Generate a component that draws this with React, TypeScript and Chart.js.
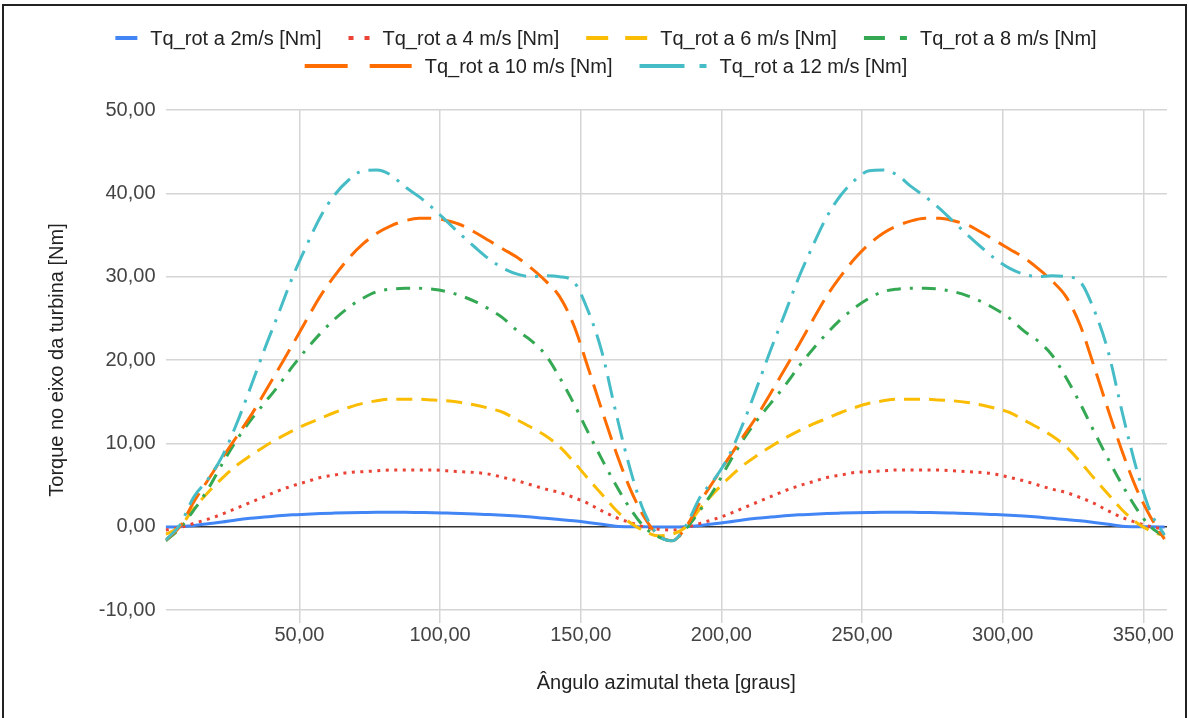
import React, { useEffect, useRef } from 'react';
import { Chart, registerables } from 'chart.js';

Chart.register(...registerables);

// Azimuthal angle theta [graus]
const THETA = [
  2.5, 7.5, 12.5, 17.5, 22.5, 27.5, 32.5, 37.5, 42.5, 47.5, 52.5, 57.5,
  62.5, 67.5, 72.5, 77.5, 82.5, 87.5, 92.5, 97.5, 102.5, 107.5, 112.5, 117.5,
  122.5, 127.5, 132.5, 137.5, 142.5, 147.5, 152.5, 157.5, 162.5, 167.5, 172.5, 177.5,
  182.5, 187.5, 192.5, 197.5, 202.5, 207.5, 212.5, 217.5, 222.5, 227.5, 232.5, 237.5,
  242.5, 247.5, 252.5, 257.5, 262.5, 267.5, 272.5, 277.5, 282.5, 287.5, 292.5, 297.5,
  302.5, 307.5, 312.5, 317.5, 322.5, 327.5, 332.5, 337.5, 342.5, 347.5, 352.5, 357.5,
];

const TQ_2 = [
  -0.05, 0.0, 0.15, 0.35, 0.55, 0.8, 1.0, 1.15, 1.3, 1.42, 1.5, 1.58,
  1.63, 1.67, 1.7, 1.72, 1.72, 1.72, 1.7, 1.68, 1.63, 1.58, 1.52, 1.45,
  1.38, 1.28, 1.15, 1.0, 0.85, 0.7, 0.5, 0.28, 0.05, 0.0, 0.0, -0.05,
  -0.05, 0.0, 0.15, 0.35, 0.55, 0.8, 1.0, 1.15, 1.3, 1.42, 1.5, 1.58,
  1.63, 1.67, 1.7, 1.72, 1.72, 1.72, 1.7, 1.68, 1.63, 1.58, 1.52, 1.45,
  1.38, 1.28, 1.15, 1.0, 0.85, 0.7, 0.5, 0.28, 0.05, 0.0, 0.0, -0.05,
];

const TQ_4 = [
  -0.4, -0.1, 0.4, 0.9, 1.5, 2.2, 2.9, 3.6, 4.3, 4.9, 5.4, 5.9,
  6.2, 6.5, 6.6, 6.7, 6.8, 6.8, 6.8, 6.8, 6.7, 6.6, 6.5, 6.3,
  5.9, 5.5, 5.0, 4.5, 4.1, 3.5, 2.8, 1.9, 1.1, 0.5, 0.0, -0.3,
  -0.4, -0.1, 0.4, 0.9, 1.5, 2.2, 2.9, 3.6, 4.3, 4.9, 5.4, 5.9,
  6.2, 6.5, 6.6, 6.7, 6.8, 6.8, 6.8, 6.8, 6.7, 6.6, 6.5, 6.3,
  5.9, 5.5, 5.0, 4.5, 4.1, 3.5, 2.8, 1.9, 1.1, 0.5, 0.0, -0.3,
];

const TQ_6 = [
  -0.9, 0.0, 2.2, 4.1, 5.8, 7.3, 8.5, 9.6, 10.6, 11.5, 12.3, 13.0,
  13.7, 14.3, 14.8, 15.1, 15.3, 15.3, 15.3, 15.2, 15.1, 14.9, 14.6, 14.2,
  13.7, 12.8, 11.9, 10.9, 9.6, 7.8, 5.8, 3.9, 2.0, 0.5, -0.5, -1.1,
  -0.9, 0.0, 2.2, 4.1, 5.8, 7.3, 8.5, 9.6, 10.6, 11.5, 12.3, 13.0,
  13.7, 14.3, 14.8, 15.1, 15.3, 15.3, 15.3, 15.2, 15.1, 14.9, 14.6, 14.2,
  13.7, 12.8, 11.9, 10.9, 9.6, 7.8, 5.8, 3.9, 2.0, 0.5, -0.5, -1.1,
];

const TQ_8 = [
  -1.7, -0.2, 2.0, 4.5, 7.5, 10.3, 12.7, 14.8, 16.9, 19.2, 21.3, 23.2,
  24.9, 26.3, 27.4, 28.2, 28.5, 28.6, 28.6, 28.5, 28.2, 27.7, 27.0, 26.1,
  25.0, 23.5, 22.3, 20.6, 17.9, 14.8, 11.4, 8.1, 5.0, 2.2, 0.0, -1.2,
  -1.7, -0.2, 2.0, 4.5, 7.5, 10.3, 12.7, 14.8, 16.9, 19.2, 21.3, 23.2,
  24.9, 26.3, 27.4, 28.2, 28.5, 28.6, 28.6, 28.5, 28.2, 27.7, 27.0, 26.1,
  25.0, 23.5, 22.3, 20.6, 17.9, 14.8, 11.4, 8.1, 5.0, 2.2, 0.0, -1.2,
];

const TQ_10 = [
  -1.6, 0.0, 3.0, 5.6, 8.2, 10.7, 13.2, 16.0, 18.9, 21.8, 24.8, 27.7,
  30.1, 32.2, 33.9, 35.2, 36.1, 36.7, 37.0, 37.0, 36.7, 36.2, 35.3, 34.3,
  33.3, 32.3, 31.0, 29.5, 27.6, 24.2, 19.2, 14.0, 9.0, 4.6, 1.2, -1.0,
  -1.7, 0.0, 3.0, 5.6, 8.2, 10.7, 13.2, 16.0, 18.9, 21.8, 24.8, 27.7,
  30.1, 32.2, 33.9, 35.2, 36.1, 36.7, 37.0, 37.0, 36.7, 36.2, 35.3, 34.3,
  33.3, 32.3, 31.0, 29.5, 27.6, 24.2, 19.2, 14.0, 9.0, 4.6, 1.2, -1.5,
];

const TQ_12 = [
  -1.6, 0.2, 3.6, 5.7, 8.4, 12.2, 16.6, 21.2, 25.5, 29.9, 33.7, 37.2,
  39.8, 41.6, 42.7, 42.8, 42.2, 40.8, 39.6, 38.2, 36.6, 35.0, 33.5, 32.1,
  31.0, 30.3, 30.0, 30.1, 30.0, 29.4, 26.0, 21.0, 13.7, 7.0, 1.8, -1.0,
  -1.7, 0.2, 3.6, 5.7, 8.4, 12.2, 16.6, 21.2, 25.5, 29.9, 33.7, 37.2,
  39.8, 41.6, 42.7, 42.8, 42.2, 40.8, 39.6, 38.2, 36.6, 35.0, 33.5, 32.1,
  31.0, 30.3, 30.0, 30.1, 30.0, 29.4, 26.0, 21.0, 13.7, 7.0, 1.8, -1.0,
];

const SERIES_LABELS = [
  'Tq_rot a 2m/s [Nm]',
  'Tq_rot a 4 m/s [Nm]',
  'Tq_rot a 6 m/s [Nm]',
  'Tq_rot a 8 m/s [Nm]',
  'Tq_rot a 10 m/s [Nm]',
  'Tq_rot a 12 m/s [Nm]',
];
const SERIES_VALUES = [TQ_2, TQ_4, TQ_6, TQ_8, TQ_10, TQ_12];

const X_TICKS = [50, 100, 150, 200, 250, 300, 350];
const Y_TICKS = [-10, 0, 10, 20, 30, 40, 50];

const X_TITLE = 'Ângulo azimutal theta [graus]';
const Y_TITLE = 'Torque no eixo da turbina [Nm]';

// ---- styles ----
const FONT = '"Liberation Sans", Arial, Helvetica, sans-serif';
const COLORS = ['#4285F4', '#EA4335', '#FBBC04', '#34A853', '#FF6D01', '#46BDC6'];
const LINE_DASH = [[], [3, 5.5], [16, 9], [14, 9, 3, 9], [24, 10], [22, 9, 3, 9]];
const LEGEND_DASH = [[], [5, 11], [22, 17], [21, 15, 7, 60], [43, 22], [45, 15, 7, 60]];
const LEGEND_MARK_W = [22, 21, 61, 43, 107, 67];

const fmt = (v: number) => v.toFixed(2).replace('.', ',');

const legendPlugin = {
  id: 'sheetLegend',
  afterDraw(chart: any) {
    const ctx = chart.ctx as CanvasRenderingContext2D;
    ctx.save();
    ctx.font = `20px ${FONT}`;
    ctx.textBaseline = 'middle';
    ctx.textAlign = 'left';
    const markGap = 13;
    const itemGap = 27;
    const maxRow = 1010;
    const widths = SERIES_LABELS.map((l, i) => LEGEND_MARK_W[i] + markGap + ctx.measureText(l).width);
    const rows: number[][] = [];
    let cur: number[] = [];
    let curW = 0;
    widths.forEach((w, i) => {
      const add = cur.length ? itemGap + w : w;
      if (cur.length && curW + add > maxRow) {
        rows.push(cur);
        cur = [i];
        curW = w;
      } else {
        cur.push(i);
        curW += add;
      }
    });
    if (cur.length) rows.push(cur);
    const centerX = 606;
    const rowY = [38, 66];
    rows.forEach((row, r) => {
      const total = row.reduce((s, i, k) => s + widths[i] + (k ? itemGap : 0), 0);
      let x = centerX - total / 2;
      const y = rowY[r] ?? 38 + r * 28;
      row.forEach((i) => {
        ctx.save();
        ctx.strokeStyle = COLORS[i];
        ctx.lineWidth = 4;
        ctx.lineCap = 'butt';
        ctx.setLineDash(LEGEND_DASH[i]);
        ctx.beginPath();
        ctx.moveTo(x, y);
        ctx.lineTo(x + LEGEND_MARK_W[i], y);
        ctx.stroke();
        ctx.restore();
        ctx.fillStyle = '#222222';
        ctx.fillText(SERIES_LABELS[i], x + LEGEND_MARK_W[i] + markGap, y + 1);
        x += widths[i] + itemGap;
      });
    });
    ctx.restore();
  },
};

export default function App() {
  const canvasRef = useRef<HTMLCanvasElement | null>(null);

  useEffect(() => {
    const canvas = canvasRef.current;
    if (!canvas) return;
    Chart.defaults.font.family = FONT;
    const datasets = SERIES_LABELS.map((label, i) => ({
      label,
      data: THETA.map((t, k) => ({ x: t, y: SERIES_VALUES[i][k] })),
      borderColor: COLORS[i],
      backgroundColor: COLORS[i],
      borderWidth: 3,
      borderDash: LINE_DASH[i],
      borderCapStyle: 'butt' as const,
      pointRadius: 0,
      pointHoverRadius: 0,
      cubicInterpolationMode: 'monotone' as const,
      fill: false,
      order: 6 - i,
    }));

    const chart = new Chart(canvas, {
      type: 'line',
      data: { datasets },
      plugins: [legendPlugin],
      options: {
        animation: false,
        responsive: false,
        devicePixelRatio: 1,
        layout: { padding: { left: 41, right: 22, top: 110, bottom: 19 } },
        plugins: {
          legend: { display: false },
          tooltip: { enabled: false },
        },
        scales: {
          x: {
            type: 'linear',
            min: 2.4,
            max: 358.4,
            afterBuildTicks: (scale: any) => {
              scale.ticks = X_TICKS.map((v) => ({ value: v }));
            },
            afterFit: (scale: any) => {
              scale.height = 89;
            },
            grid: {
              color: '#d5d5d5',
              lineWidth: 1.5,
              drawTicks: true,
              tickLength: 13,
            },
            border: { display: false },
            ticks: {
              padding: 0,
              maxRotation: 0,
              autoSkip: false,
              color: '#444444',
              font: { size: 20 },
              callback: (v: any) => fmt(Number(v)),
            },
            title: {
              display: true,
              text: X_TITLE,
              color: '#222222',
              font: { size: 20 },
              padding: { top: 4, bottom: 4 },
            },
          },
          y: {
            type: 'linear',
            min: -10,
            max: 50,
            afterBuildTicks: (scale: any) => {
              scale.ticks = Y_TICKS.map((v) => ({ value: v }));
            },
            afterFit: (scale: any) => {
              scale.width = 124.5;
            },
            grid: {
              color: (c: any) => (c.tick && c.tick.value === 0 ? '#333333' : '#d5d5d5'),
              lineWidth: 1.5,
              drawTicks: false,
            },
            border: { display: false },
            ticks: {
              padding: 10,
              color: '#444444',
              font: { size: 20 },
              callback: (v: any) => fmt(Number(v)),
            },
            title: {
              display: true,
              text: Y_TITLE,
              color: '#222222',
              font: { size: 20 },
              padding: { top: 4, bottom: 4 },
            },
          },
        },
      },
    } as any);

    return () => {
      chart.destroy();
    };
  }, []);

  return (
    <div
      style={{
        position: 'fixed',
        left: 0,
        top: 0,
        width: 1189,
        height: 718,
        overflow: 'hidden',
        background: '#ffffff',
      }}
    >
      <div
        style={{
          position: 'absolute',
          left: 2,
          top: 4,
          width: 1181,
          height: 800,
          border: '2px solid #222222',
          borderBottom: 'none',
        }}
      />
      <canvas
        ref={canvasRef}
        width={1189}
        height={718}
        style={{ position: 'absolute', left: 0, top: 0, width: 1189, height: 718 }}
      />
    </div>
  );
}
